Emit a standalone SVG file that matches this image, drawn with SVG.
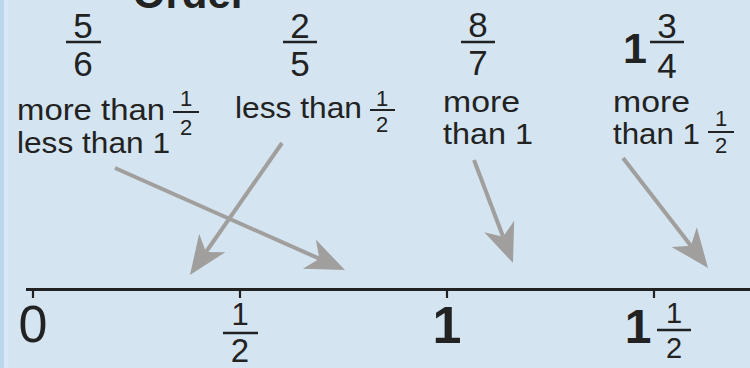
<svg xmlns="http://www.w3.org/2000/svg" width="750" height="368" viewBox="0 0 750 368">
  <style>
    text { font-family: "Liberation Sans", Arial, sans-serif; fill: #222; }
    .frac { font-size: 35px; text-anchor: middle; }
    .lbl { font-size: 30px; }
    .sm { font-size: 22px; text-anchor: middle; }
    .bar { stroke: #222; stroke-width: 2.6; }
    .arrow { stroke: #a09f9d; stroke-width: 4; fill: none; marker-end: url(#head); }
    .axis { stroke: #222; stroke-width: 2.8; }
    .tick { stroke: #222; stroke-width: 2.2; }
  </style>
  <defs>
    <marker id="head" markerUnits="userSpaceOnUse" viewBox="-15 -20 50 40" markerWidth="50" markerHeight="40" refX="0" refY="0" orient="auto">
      <path d="M28,0 L-11,-16 L0,0 L-11,16 Z" fill="#a09f9d"/>
    </marker>
  </defs>

  <rect x="0" y="0" width="750" height="368" fill="#d4e5f1"/>
  <rect x="0" y="0" width="4" height="368" fill="#bcd6eb"/>
  <rect x="4" y="0" width="4" height="368" fill="#d9e8f4"/>

  <text id="title" x="190" y="8" font-size="42" font-weight="bold" text-anchor="middle">Order</text>

  <g id="n-5-6">
    <text class="frac" x="83" y="38">5</text>
    <line class="bar" x1="66" y1="42" x2="101" y2="42"/>
    <text class="frac" x="83" y="76">6</text>
    <text class="lbl" x="17" y="120" textLength="148" lengthAdjust="spacingAndGlyphs">more than</text>
    <text class="sm" x="186" y="106">1</text>
    <line class="bar" x1="173" y1="112" x2="199" y2="112" style="stroke-width:2"/>
    <text class="sm" x="186" y="135">2</text>
    <text class="lbl" x="17" y="153" textLength="153" lengthAdjust="spacingAndGlyphs">less than 1</text>
  </g>

  <g id="n-2-5">
    <text class="frac" x="300" y="38">2</text>
    <line class="bar" x1="283" y1="42" x2="317" y2="42"/>
    <text class="frac" x="300" y="76">5</text>
    <text class="lbl" x="235" y="118" textLength="127" lengthAdjust="spacingAndGlyphs">less than</text>
    <text class="sm" x="382" y="106">1</text>
    <line class="bar" x1="370" y1="110" x2="395" y2="110" style="stroke-width:2"/>
    <text class="sm" x="382" y="132">2</text>
  </g>

  <g id="n-8-7">
    <text class="frac" x="478" y="37">8</text>
    <line class="bar" x1="461" y1="42" x2="495" y2="42"/>
    <text class="frac" x="478" y="75">7</text>
    <text class="lbl" x="443" y="112" textLength="77" lengthAdjust="spacingAndGlyphs">more</text>
    <text class="lbl" x="443" y="144" textLength="90" lengthAdjust="spacingAndGlyphs">than 1</text>
  </g>

  <g id="n-1-3-4">
    <text x="635" y="63" font-size="43" font-weight="bold" text-anchor="middle">1</text>
    <text class="frac" x="667" y="38">3</text>
    <line class="bar" x1="650" y1="42" x2="684" y2="42"/>
    <text class="frac" x="667" y="78">4</text>
    <text class="lbl" x="613" y="112" textLength="77" lengthAdjust="spacingAndGlyphs">more</text>
    <text class="lbl" x="613" y="144" textLength="87" lengthAdjust="spacingAndGlyphs">than 1</text>
    <text class="sm" x="721" y="126">1</text>
    <line class="bar" x1="708" y1="132" x2="734" y2="132" style="stroke-width:2"/>
    <text class="sm" x="721" y="153">2</text>
  </g>

  <g id="number-line">
    <line class="axis" x1="26" y1="289.5" x2="750" y2="289.5"/>
    <line class="tick" x1="33" y1="289" x2="33" y2="298"/>
    <line class="tick" x1="240" y1="289" x2="240" y2="298"/>
    <line class="tick" x1="447" y1="289" x2="447" y2="298"/>
    <line class="tick" x1="654" y1="289" x2="654" y2="298"/>
    <text x="33" y="342" font-size="52" text-anchor="middle">0</text>
    <text x="240" y="325" font-size="31" text-anchor="middle">1</text>
    <line class="bar" x1="223" y1="333" x2="258" y2="333"/>
    <text x="240" y="362" font-size="33" text-anchor="middle">2</text>
    <text x="447" y="343" font-size="52" font-weight="bold" text-anchor="middle">1</text>
    <text x="638" y="343" font-size="48" font-weight="bold" text-anchor="middle">1</text>
    <text x="674" y="323" font-size="29" text-anchor="middle">1</text>
    <line class="bar" x1="657" y1="330" x2="691" y2="330"/>
    <text x="674" y="358" font-size="29" text-anchor="middle">2</text>
  </g>

  <g id="connectors">
    <line class="arrow" x1="115" y1="168" x2="319.4" y2="258.7"/>
    <line class="arrow" x1="282" y1="143" x2="206" y2="252"/>
    <line class="arrow" x1="474" y1="160" x2="503.1" y2="236.8"/>
    <line class="arrow" x1="623" y1="158" x2="690.9" y2="245.8"/>
  </g>
</svg>
